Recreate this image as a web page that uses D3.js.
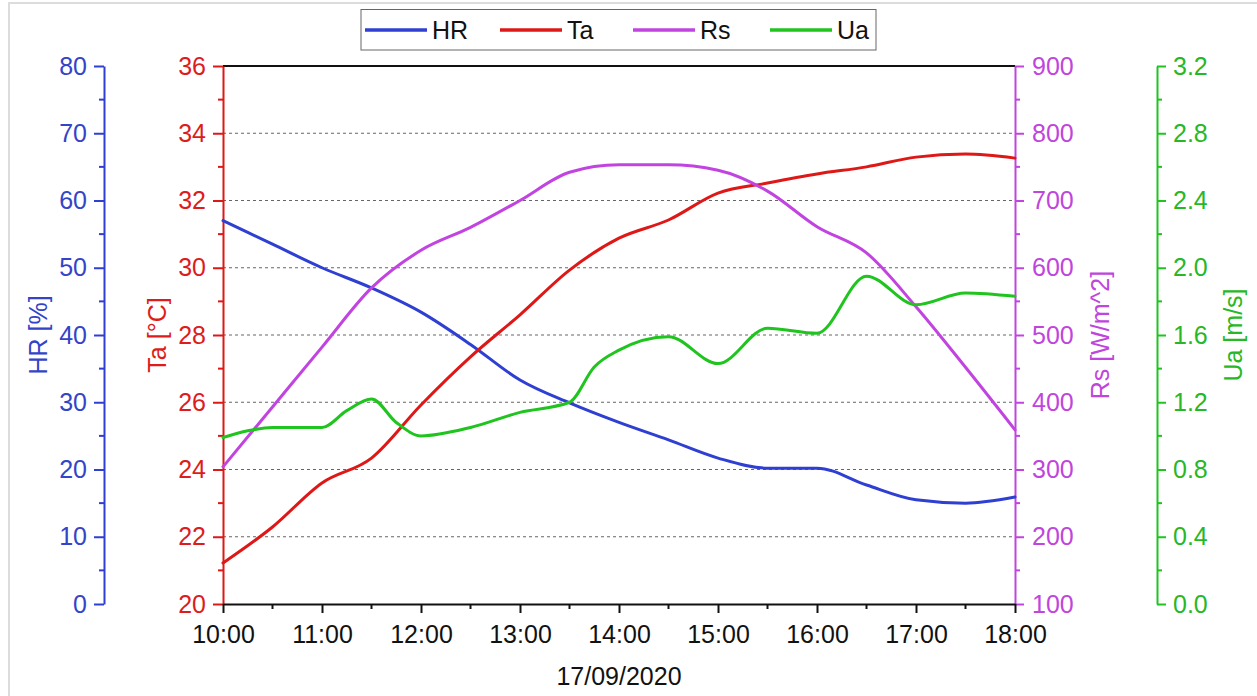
<!DOCTYPE html>
<html><head><meta charset="utf-8">
<script src="https://cdn.jsdelivr.net/npm/d3@7"></script>
<style>
html,body{margin:0;padding:0;background:#fff;}
svg{display:block;font-family:"Liberation Sans",Arial,sans-serif;}
</style></head>
<body>
<svg id="chart" width="1257" height="696"></svg>
<script>
// ---- data ----
const hrTimes = [10,10.5,11,11.5,12,12.5,13,13.5,14,14.5,15,15.5,16,16.5,17,17.5,18];
const hrValues = [57,53.5,50,47,43.4,38.6,33.3,29.9,27,24.4,21.7,20.2,20.2,17.7,15.5,15.0,15.9];
const taTimes = [10,10.5,11,11.5,12,12.5,13,13.5,14,14.5,15,15.5,16,16.5,17,17.5,18];
const taValues = [21.22,22.29,23.6,24.34,25.92,27.35,28.6,29.93,30.88,31.42,32.22,32.52,32.79,33.0,33.29,33.38,33.26];
const rsTimes = [10,10.5,11,11.5,12,12.5,13,13.5,14,14.5,15,15.5,16,16.5,17,17.5,18];
const rsValues = [304,393,482,570,626,660,700,742,753,753,745,714,661,622,542,452,359];
const uaTimes = [10,10.25,10.5,11,11.25,11.5,11.75,12,12.5,13,13.5,13.75,14,14.5,15,15.5,16,16.5,17,17.5,18];
const uaValues = [0.99,1.03,1.05,1.05,1.15,1.22,1.08,1.0,1.05,1.14,1.2,1.41,1.51,1.59,1.43,1.64,1.61,1.95,1.78,1.85,1.83];
const xTickHours = [10,11,12,13,14,15,16,17,18];
const xTickLabels = ["10:00","11:00","12:00","13:00","14:00","15:00","16:00","17:00","18:00"];
const hrTicks = [0,10,20,30,40,50,60,70,80];
const taTicks = [20,22,24,26,28,30,32,34,36];
const rsTicks = [100,200,300,400,500,600,700,800,900];
const uaTicks = [0,0.4,0.8,1.2,1.6,2.0,2.4,2.8,3.2];
const gridTicks = [22,24,26,28,30,32,34];
const seriesNames = ["HR","Ta","Rs","Ua"];
const xTitle = "17/09/2020";

// ---- layout ----
const L = 223, R = 1015, T = 66, B = 604;
const col = {HR:"#2e3fd2", Ta:"#de1717", Rs:"#c244e0", Ua:"#1fc41f"};
const txt = {HR:"#3344c8", Ta:"#dd1c1c", Rs:"#bf45dc", Ua:"#26b826"};
const FS = 25;

const svg = d3.select("#chart");
// frame lines
svg.append("line").attr("x1",8).attr("x2",1257).attr("y1",3).attr("y2",3).attr("stroke","#dcdcdc").attr("stroke-width",2);
svg.append("line").attr("x1",9).attr("x2",9).attr("y1",3).attr("y2",696).attr("stroke","#dcdcdc").attr("stroke-width",2);

const x = d3.scaleLinear().domain([10,18]).range([L,R]);
const yHR = d3.scaleLinear().domain([0,80]).range([B,T]);
const yTa = d3.scaleLinear().domain([20,36]).range([B,T]);
const yRs = d3.scaleLinear().domain([100,900]).range([B,T]);
const yUa = d3.scaleLinear().domain([0,3.2]).range([B,T]);

// grid
svg.append("g").selectAll("line").data(gridTicks).join("line")
  .attr("x1",L).attr("x2",R).attr("y1",d=>yTa(d)).attr("y2",d=>yTa(d))
  .attr("stroke","#666").attr("stroke-width",1).attr("stroke-dasharray","3,3");

// top line
svg.append("line").attr("x1",L).attr("x2",R).attr("y1",T).attr("y2",T).attr("stroke","#111").attr("stroke-width",2);

function styleAxis(g, color){
  g.select(".domain").attr("stroke",color).attr("stroke-width",2);
  g.selectAll(".tick line").attr("stroke",color).attr("stroke-width",2);
  g.selectAll(".tick text").attr("fill",color).attr("font-size",FS).attr("font-family","Liberation Sans, Arial, sans-serif");
}
function minor(g, scale, vals, orient, color, pos, len){
  g.selectAll(null).data(vals).join("line")
    .attr("stroke",color).attr("stroke-width",2)
    .each(function(d){
      const s = d3.select(this);
      if(orient==="left"){ s.attr("x1",pos).attr("x2",pos-len).attr("y1",scale(d)).attr("y2",scale(d)); }
      else if(orient==="right"){ s.attr("x1",pos).attr("x2",pos+len).attr("y1",scale(d)).attr("y2",scale(d)); }
      else { s.attr("y1",pos).attr("y2",pos+len).attr("x1",scale(d)).attr("x2",scale(d)); }
    });
}

// HR axis
const gHR = svg.append("g").attr("transform","translate(104,0)")
  .call(d3.axisLeft(yHR).tickValues(hrTicks).tickSize(10).tickSizeOuter(0).tickPadding(7).tickFormat(d3.format("d")));
styleAxis(gHR, col.HR); gHR.selectAll(".tick text").attr("fill",txt.HR);
minor(svg.append("g"), yHR, d3.range(5,80,10), "left", col.HR, 104, 5);

// Ta axis
const gTa = svg.append("g").attr("transform",`translate(${L},0)`)
  .call(d3.axisLeft(yTa).tickValues(taTicks).tickSize(10).tickSizeOuter(0).tickPadding(7).tickFormat(d3.format("d")));
styleAxis(gTa, col.Ta); gTa.selectAll(".tick text").attr("fill",txt.Ta);
minor(svg.append("g"), yTa, d3.range(21,36,2), "left", col.Ta, L, 5);

// Rs axis
const gRs = svg.append("g").attr("transform",`translate(${R},0)`)
  .call(d3.axisRight(yRs).tickValues(rsTicks).tickSize(9).tickSizeOuter(0).tickPadding(8).tickFormat(d3.format("d")));
styleAxis(gRs, col.Rs); gRs.selectAll(".tick text").attr("fill",txt.Rs);
minor(svg.append("g"), yRs, d3.range(150,900,100), "right", col.Rs, R, 5);

// Ua axis
const gUa = svg.append("g").attr("transform","translate(1157,0)")
  .call(d3.axisRight(yUa).tickValues(uaTicks).tickSize(9).tickSizeOuter(0).tickPadding(7).tickFormat(d3.format(".1f")));
styleAxis(gUa, col.Ua); gUa.selectAll(".tick text").attr("fill",txt.Ua);
minor(svg.append("g"), yUa, d3.range(0.2,3.2,0.4), "right", col.Ua, 1157, 5);

// X axis
const gX = svg.append("g").attr("transform",`translate(0,${B})`)
  .call(d3.axisBottom(x).tickValues(xTickHours).tickSize(9).tickSizeOuter(0).tickPadding(12)
    .tickFormat((d,i)=>xTickLabels[i]));
styleAxis(gX, "#111"); gX.selectAll(".tick text").attr("fill","#111");
minor(svg.append("g"), x, d3.range(10.5,18,1), "bottom", "#111", B, 5);

// axis titles
function vTitle(text, cx, color){
  svg.append("text").attr("transform",`translate(${cx},${(T+B)/2}) rotate(-90)`)
    .attr("text-anchor","middle").attr("dominant-baseline","central")
    .attr("font-size",FS).attr("fill",color).text(text);
}
vTitle("HR [%]", 38, txt.HR);
vTitle("Ta [°C]", 157, txt.Ta);
vTitle("Rs [W/m^2]", 1100, txt.Rs);
vTitle("Ua [m/s]", 1233, txt.Ua);
svg.append("text").attr("x",(L+R)/2).attr("y",685).attr("text-anchor","middle")
  .attr("font-size",FS).attr("fill","#111").text(xTitle);

// lines
function drawLine(times, vals, yS, color){
  const line = d3.line().x(d=>x(d[0])).y(d=>yS(d[1])).curve(d3.curveMonotoneX);
  svg.append("path").datum(times.map((t,i)=>[t,vals[i]]))
    .attr("d",line).attr("fill","none").attr("stroke",color).attr("stroke-width",3)
    .attr("stroke-linejoin","round").attr("stroke-linecap","round");
}
drawLine(hrTimes, hrValues, yHR, col.HR);
drawLine(taTimes, taValues, yTa, col.Ta);
drawLine(rsTimes, rsValues, yRs, col.Rs);
drawLine(uaTimes, uaValues, yUa, col.Ua);

// legend
const lg = svg.append("g");
lg.append("rect").attr("x",361).attr("y",9.5).attr("width",515).attr("height",40.5)
  .attr("fill","#fff").attr("stroke","#666").attr("stroke-width",1);
const legX = [365,500,633,770];
seriesNames.forEach((n,i)=>{
  lg.append("line").attr("x1",legX[i]).attr("x2",legX[i]+62).attr("y1",30).attr("y2",30)
    .attr("stroke",col[n]).attr("stroke-width",3.5);
  lg.append("text").attr("x",legX[i]+67).attr("y",39).attr("font-size",FS).attr("fill","#111").text(n);
});
</script>
</body></html>
